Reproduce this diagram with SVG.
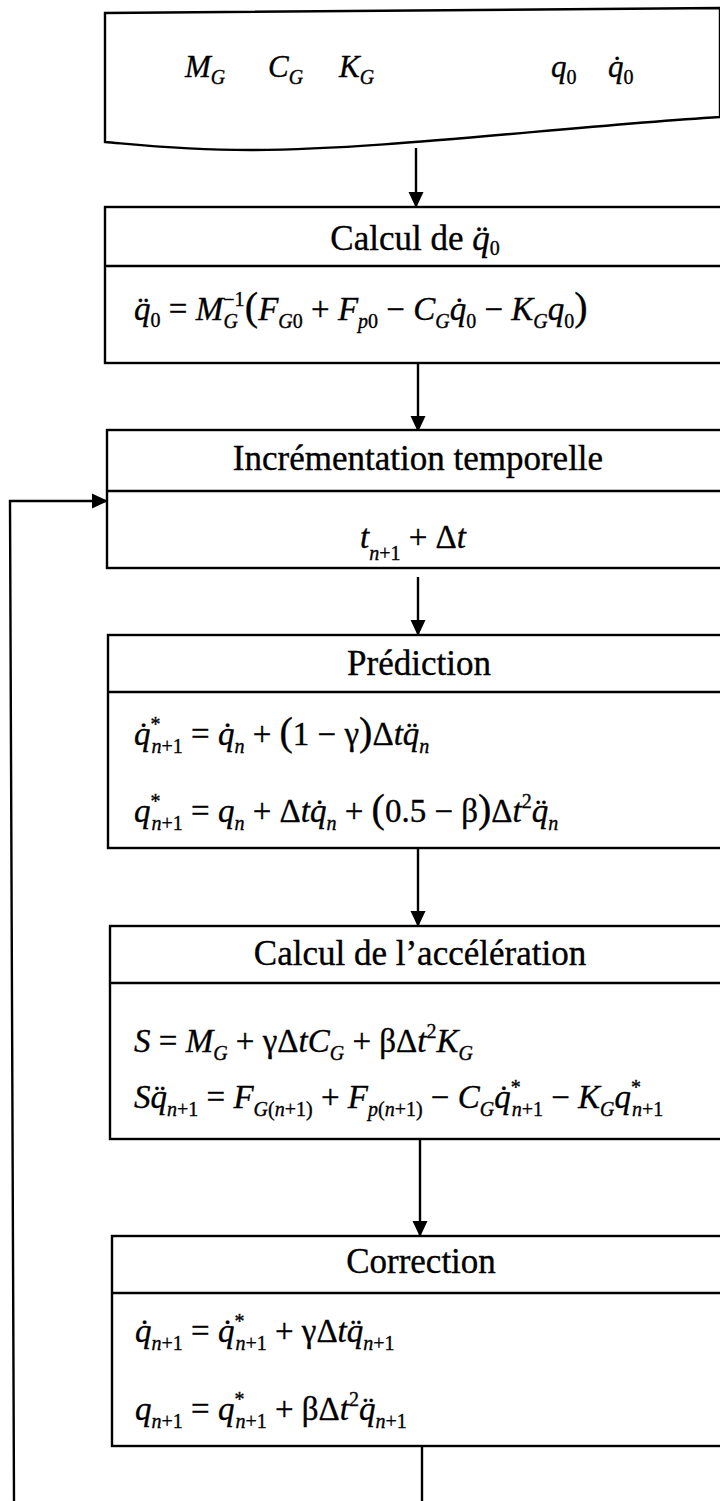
<svg xmlns="http://www.w3.org/2000/svg" width="720" height="1501" viewBox="0 0 720 1501">
<defs>
<style>
.ln{fill:none;stroke:#000;stroke-width:2.4}
.bx{fill:#fff;stroke:#000;stroke-width:2.4}
.h{font-family:"Liberation Serif","Times New Roman",serif;font-size:35px;text-anchor:middle;fill:#000;stroke:#000;stroke-width:0.35}
.m{font-family:"Liberation Serif","Times New Roman",serif;font-size:33px;font-style:italic;fill:#000;stroke:#000;stroke-width:0.35}
.m1{font-size:31px}
.u{font-style:normal}
.i{font-style:italic}
.sb{font-size:20px}
.big{font-size:40px}
</style>
<marker id="ah" viewBox="0 0 16 16" refX="15" refY="8" markerWidth="16" markerHeight="16" orient="auto" markerUnits="userSpaceOnUse">
<path d="M0,0.5 L16,8 L0,15.5 Z" fill="#000"/>
</marker>
</defs>
<rect width="720" height="1501" fill="#fff"/>

<g id="connectors">
<path class="ln" d="M416,148 V207" marker-end="url(#ah)"/>
<path class="ln" d="M418,363 V431" marker-end="url(#ah)"/>
<path class="ln" d="M418,577 V635" marker-end="url(#ah)"/>
<path class="ln" d="M418,848 V926" marker-end="url(#ah)"/>
<path class="ln" d="M420,1139 V1236" marker-end="url(#ah)"/>
<path class="ln" d="M422,1446 V1501"/>
<path class="ln" d="M14,1501 L10,501 H107" marker-end="url(#ah)"/>
</g>

<g id="input">
<path class="bx" d="M105,13 L720,8 L720,117 C560,127 380,150 250,150 C180,150 130,144 105,142 Z"/>
<text class="m m1" x="185" y="77">M<tspan class="sb" dy="7">G</tspan></text>
<text class="m m1" x="268" y="77">C<tspan class="sb" dy="7">G</tspan></text>
<text class="m m1" x="339" y="77">K<tspan class="sb" dy="7">G</tspan></text>
<text class="m m1" x="551" y="77">q<tspan class="sb u" dy="7">0</tspan></text>
<text class="m m1" x="608" y="77">q&#x307;<tspan class="sb u" dy="7">0</tspan></text>
</g>

<g id="init">
<rect class="bx" x="105" y="207" width="660" height="156"/>
<line class="ln" x1="105" y1="266" x2="720" y2="266"/>
<text class="h" x="415" y="250">Calcul de <tspan class="i">q&#x308;</tspan><tspan class="sb" dy="5">0</tspan></text>
<text class="m" x="134" y="320">q&#x308;<tspan class="sb u" dy="7">0</tspan><tspan class="u" dy="-7"> = </tspan>M<tspan class="sb u" dy="-14">−1</tspan><tspan class="sb" dx="-21" dy="22">G</tspan><tspan class="u big" dx="7" dy="-8">(</tspan>F<tspan class="sb" dy="8">G</tspan><tspan class="sb u">0</tspan><tspan class="u" dy="-8"> + </tspan>F<tspan class="sb" dy="8">p</tspan><tspan class="sb u">0</tspan><tspan class="u" dy="-8"> − </tspan>C<tspan class="sb" dy="8">G</tspan><tspan dy="-8">q&#x307;</tspan><tspan class="sb u" dy="8">0</tspan><tspan class="u" dy="-8"> − </tspan>K<tspan class="sb" dy="8">G</tspan><tspan dy="-8">q</tspan><tspan class="sb u" dy="8">0</tspan><tspan class="u big" dy="-8">)</tspan></text>
</g>

<g id="increment">
<rect class="bx" x="107" y="430" width="660" height="138"/>
<line class="ln" x1="107" y1="491" x2="720" y2="491"/>
<text class="h" x="418" y="470">Incrémentation temporelle</text>
<text class="m" x="360" y="548">t<tspan class="sb" dy="12">n</tspan><tspan class="sb u">+1</tspan><tspan class="u" dy="-12"> + Δ</tspan>t</text>
</g>

<g id="prediction">
<rect class="bx" x="108" y="635" width="660" height="213"/>
<line class="ln" x1="108" y1="692" x2="720" y2="692"/>
<text class="h" x="419" y="675">Prédiction</text>
<text class="m" x="134" y="745">q&#x307;<tspan class="sb u" dy="-14">*</tspan><tspan class="sb" dx="-9" dy="22">n</tspan><tspan class="sb u">+1</tspan><tspan class="u" dy="-8"> = </tspan>q&#x307;<tspan class="sb" dy="8">n</tspan><tspan class="u" dy="-8"> + </tspan><tspan class="u big">(</tspan><tspan class="u">1 − γ</tspan><tspan class="u big">)</tspan><tspan class="u">Δ</tspan>tq&#x308;<tspan class="sb" dy="8">n</tspan></text>
<text class="m" x="134" y="822">q<tspan class="sb u" dy="-14">*</tspan><tspan class="sb" dx="-9" dy="22">n</tspan><tspan class="sb u">+1</tspan><tspan class="u" dy="-8"> = </tspan>q<tspan class="sb" dy="8">n</tspan><tspan class="u" dy="-8"> + Δ</tspan>tq&#x307;<tspan class="sb" dy="8">n</tspan><tspan class="u" dy="-8"> + </tspan><tspan class="u big">(</tspan><tspan class="u">0.5 − β</tspan><tspan class="u big">)</tspan><tspan class="u">Δ</tspan>t<tspan class="sb u" dy="-14">2</tspan><tspan dy="14">q&#x308;</tspan><tspan class="sb" dy="8">n</tspan></text>
</g>

<g id="acceleration">
<rect class="bx" x="110" y="926" width="660" height="213"/>
<line class="ln" x1="110" y1="983" x2="720" y2="983"/>
<text class="h" x="420" y="965">Calcul de l’accélération</text>
<text class="m" x="134" y="1052">S<tspan class="u"> = </tspan>M<tspan class="sb" dy="8">G</tspan><tspan class="u" dy="-8"> + γΔ</tspan>tC<tspan class="sb" dy="8">G</tspan><tspan class="u" dy="-8"> + βΔ</tspan>t<tspan class="sb u" dy="-14">2</tspan><tspan dy="14">K</tspan><tspan class="sb" dy="8">G</tspan></text>
<text class="m" x="134" y="1108">Sq&#x308;<tspan class="sb" dy="8">n</tspan><tspan class="sb u">+1</tspan><tspan class="u" dy="-8"> = </tspan>F<tspan class="sb" dy="8">G</tspan><tspan class="sb u">(</tspan><tspan class="sb">n</tspan><tspan class="sb u">+1)</tspan><tspan class="u" dy="-8"> + </tspan>F<tspan class="sb" dy="8">p</tspan><tspan class="sb u">(</tspan><tspan class="sb">n</tspan><tspan class="sb u">+1)</tspan><tspan class="u" dy="-8"> − </tspan>C<tspan class="sb" dy="8">G</tspan><tspan dy="-8">q&#x307;</tspan><tspan class="sb u" dy="-14">*</tspan><tspan class="sb" dx="-9" dy="22">n</tspan><tspan class="sb u">+1</tspan><tspan class="u" dy="-8"> − </tspan>K<tspan class="sb" dy="8">G</tspan><tspan dy="-8">q</tspan><tspan class="sb u" dy="-14">*</tspan><tspan class="sb" dx="-9" dy="22">n</tspan><tspan class="sb u">+1</tspan></text>
</g>

<g id="correction">
<rect class="bx" x="112" y="1236" width="660" height="210"/>
<line class="ln" x1="112" y1="1293" x2="720" y2="1293"/>
<text class="h" x="421" y="1273">Correction</text>
<text class="m" x="135" y="1342">q&#x307;<tspan class="sb" dy="8">n</tspan><tspan class="sb u">+1</tspan><tspan class="u" dy="-8"> = </tspan>q&#x307;<tspan class="sb u" dy="-14">*</tspan><tspan class="sb" dx="-9" dy="22">n</tspan><tspan class="sb u">+1</tspan><tspan class="u" dy="-8"> + γΔ</tspan>tq&#x308;<tspan class="sb" dy="8">n</tspan><tspan class="sb u">+1</tspan></text>
<text class="m" x="135" y="1420">q<tspan class="sb" dy="8">n</tspan><tspan class="sb u">+1</tspan><tspan class="u" dy="-8"> = </tspan>q<tspan class="sb u" dy="-14">*</tspan><tspan class="sb" dx="-9" dy="22">n</tspan><tspan class="sb u">+1</tspan><tspan class="u" dy="-8"> + βΔ</tspan>t<tspan class="sb u" dy="-14">2</tspan><tspan dy="14">q&#x308;</tspan><tspan class="sb" dy="8">n</tspan><tspan class="sb u">+1</tspan></text>
</g>
</svg>
